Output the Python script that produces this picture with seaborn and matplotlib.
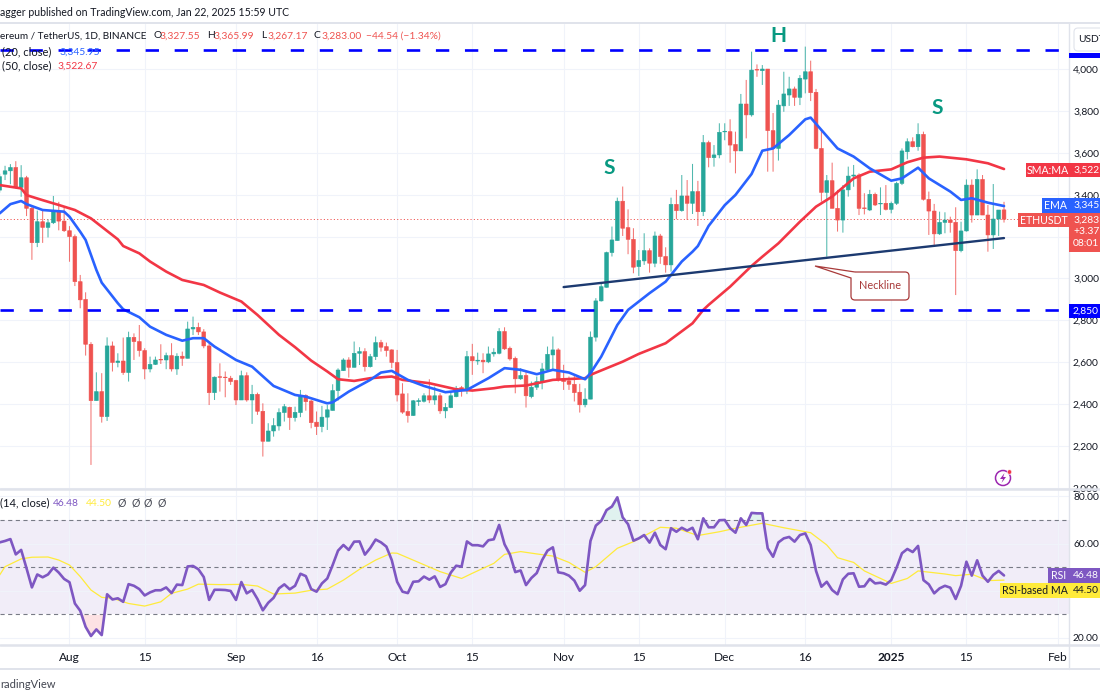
import numpy as np
import pandas as pd
import matplotlib
matplotlib.use("Agg")
import matplotlib.pyplot as plt
import seaborn as sns
from matplotlib.patches import Rectangle, FancyBboxPatch, PathPatch, Circle, Polygon
from matplotlib.path import Path
from matplotlib.transforms import Affine2D

# daily candles, 19 Jul 2024 to 22 Jan 2025
opens = [3422,3498,3514,3530,3435,3481,3335,3171,3271,3244,3266,3319,3274,
    3228,3200,2985,2900,2686,2417,2460,2341,2678,2599,
    2606,2551,2719,2699,2656,2568,2590,2614,2611,2632,
    2568,2629,2619,2759,2767,2745,2678,2455,2531,2529,
    2524,2513,2420,2536,2420,2447,2366,2223,2272,2296,
    2360,2385,2336,2360,2441,2415,2314,2293,2338,2370,
    2465,2560,2611,2576,2643,2651,2579,2627,2694,2675,
    2659,2599,2449,2365,2346,2412,2414,2440,2420,2440,
    2368,2384,2436,2479,2471,2627,2606,2610,2602,2640,
    2643,2747,2667,2619,2521,2537,2436,2481,2505,2564,
    2635,2659,2522,2511,2495,2457,2397,2424,2720,2893,
    2958,3124,3181,3369,3243,3187,3057,3084,3133,3073,
    3203,3105,3065,3354,3324,3394,3359,3415,3319,3649,
    3577,3590,3700,3701,3640,3609,3833,3781,3998,3992,
    4000,3706,3621,3824,3876,3905,3865,3952,3987,3889,
    3621,3411,3467,3335,3279,3423,3489,3494,3337,3327,
    3402,3356,3359,3330,3359,3454,3605,3653,3629,3688,
    3378,3322,3213,3268,3279,3268,3133,3227,3446,3303,
    3473,3303,3208,3284,3327.55]
closes = [3486,3514,3530,3435,3481,3335,3171,3271,3244,3266,3319,3274,3228,
    3200,2985,2898,2686,2417,2460,2341,2678,2599,2606,
    2551,2719,2699,2656,2568,2590,2611,2611,2632,2568,
    2629,2619,2759,2767,2745,2678,2455,2529,2528,2527,
    2508,2420,2536,2420,2447,2366,2223,2272,2298,2360,
    2388,2336,2361,2441,2412,2312,2293,2338,2373,2465,
    2563,2611,2576,2643,2651,2579,2627,2694,2672,2656,
    2599,2444,2362,2346,2416,2417,2440,2420,2440,2368,
    2385,2440,2476,2471,2627,2607,2610,2602,2640,2648,
    2747,2664,2616,2521,2537,2440,2481,2508,2568,2638,
    2659,2519,2508,2495,2455,2397,2424,2720,2893,2961,
    3124,3184,3369,3240,3187,3054,3086,3133,3073,3203,
    3105,3065,3354,3324,3394,3359,3415,3319,3649,3577,
    3590,3698,3703,3637,3609,3833,3781,3995,3995,4000,
    3706,3621,3828,3881,3905,3865,3956,3987,3887,3621,
    3411,3467,3335,3279,3423,3489,3494,3335,3334,3402,
    3351,3359,3330,3359,3454,3609,3653,3629,3688,3378,
    3322,3213,3268,3279,3267,3133,3227,3446,3303,3473,
    3303,3208,3284,3327,3283]
highs = [3500,3538,3546,3560,3541,3490,3345,3324,3324,3282,3394,3366,3340,
    3250,3210,3017,2934,2696,2552,2548,2719,2699,2643,
    2718,2746,2738,2778,2667,2627,2627,2686,2646,2691,
    2643,2651,2794,2818,2789,2758,2691,2532,2595,2556,
    2535,2516,2560,2552,2492,2455,2404,2309,2333,2380,
    2401,2388,2388,2468,2447,2420,2365,2392,2396,2495,
    2571,2619,2624,2699,2672,2667,2640,2723,2707,2694,
    2662,2659,2500,2452,2420,2428,2452,2519,2484,2452,
    2405,2460,2487,2487,2654,2688,2646,2643,2675,2667,
    2763,2767,2675,2627,2572,2556,2508,2532,2596,2675,
    2723,2667,2588,2532,2540,2497,2476,2747,2906,2977,
    3128,3248,3386,3439,3330,3240,3136,3216,3144,3224,
    3213,3149,3386,3423,3494,3470,3547,3466,3685,3658,
    3637,3741,3741,3760,3701,3881,3948,4083,4022,4019,
    4000,3790,3852,3987,3963,3916,3971,4107,4040,3905,
    3709,3494,3553,3423,3446,3534,3542,3502,3407,3423,
    3410,3435,3446,3367,3462,3621,3669,3674,3741,3701,
    3415,3356,3319,3316,3295,3340,3271,3473,3473,3521,
    3494,3351,3451,3327,3365.99]
lows = [3410,3470,3450,3430,3390,3298,3089,3150,3170,3196,3260,3230,3222,
    3080,2964,2858,2632,2110,2417,2312,2320,2556,2576,
    2540,2508,2611,2627,2519,2552,2587,2592,2567,2556,
    2540,2583,2619,2730,2730,2667,2396,2420,2460,2433,
    2492,2396,2420,2412,2306,2349,2150,2223,2245,2274,
    2317,2277,2317,2338,2369,2285,2253,2266,2277,2370,
    2417,2559,2527,2576,2587,2556,2575,2611,2651,2627,
    2572,2413,2354,2312,2344,2392,2408,2405,2397,2354,
    2333,2381,2433,2436,2448,2540,2588,2548,2596,2627,
    2638,2659,2608,2452,2516,2384,2428,2468,2471,2560,
    2564,2508,2468,2468,2413,2360,2385,2424,2699,2890,
    2957,3105,3181,3203,3116,3025,3012,3065,3028,3054,
    3070,3028,3033,3283,3319,3280,3308,3251,3298,3531,
    3534,3574,3660,3553,3502,3609,3669,3773,3963,3924,
    3510,3510,3563,3796,3824,3824,3828,3884,3847,3617,
    3367,3104,3335,3224,3219,3391,3438,3303,3306,3322,
    3346,3303,3325,3311,3351,3446,3569,3626,3610,3372,
    3208,3160,3208,3216,3219,2921,3125,3224,3267,3303,
    3303,3128,3141,3203,3267.17]

ema_days = [-13,-11,-9,-8,-5,-1,0,2,3,5,6,9,10,13,15,18,21,23,25,27,31,34,38,42,44,
    48,49,52,56,58,60,63,66,70,74,78,81,84,87,90,93,96,97,99,102,104,108,111,114,116,
    117,119,122,124,127,129,131,134,137,138,140,143,146,149,153,155,158,160,164,166,168,171,174]
ema_vals = [3311,3355,3370,3355,3327,3319,3295,3223,3184,3041,2980,2882,2853,2815,2770,
    2731,2703,2715,2715,2675,2611,2579,2487,2444,2436,2404,2409,2460,2516,2551,
    2559,2516,2487,2457,2468,2524,2572,2564,2543,2564,2551,2519,2548,2627,2778,
    2850,2930,2985,3081,3128,3155,3251,3350,3399,3499,3610,3621,3685,3760,3768,
    3709,3621,3582,3526,3467,3478,3529,3478,3415,3375,3383,3362,3345.95]
sma_days = [-13,-9,-8,-5,-2,1,4,9,10,13,15,18,21,25,28,32,35,39,42,45,48,50,53,56,60,62,67,72,
    75,79,81,85,90,96,97,103,106,111,116,117,118,119,123,127,129,132,136,139,142,146,149,153,156,159,162,167,171,174]
sma_vals = [3446,3430,3398,3374,3351,3327,3287,3187,3155,3120,3081,3033,2993,2969,2933,2890,
    2826,2731,2672,2608,2556,2519,2511,2524,2532,2516,2500,2471,2465,2476,2484,2489,2516,
    2524,2540,2603,2640,2691,2786,2818,2850,2874,2961,3060,3104,3168,3271,3343,3391,3478,
    3510,3521,3555,3577,3582,3569,3550,3522.67]

# RSI(14), one reading per candle
rsi_vals = [60.5,61.1,61.9,55.4,57.3,49.5,41.4,46.9,45.7,46.9,49.8,47.7,45.0,
    43.6,34.6,31.5,24.7,20.8,23.6,21.2,38.5,36.3,36.8,
    35.3,42.8,42.1,40.7,38.0,39.3,40.2,40.2,41.4,39.0,
    42.6,42.4,50.3,50.5,49.1,45.8,36.1,40.4,40.4,40.3,
    39.9,36.1,43.7,38.9,40.3,36.5,31.7,34.9,37.0,41.0,
    42.7,40.6,42.1,47.2,46.2,40.7,39.6,43.1,45.2,50.9,
    57.0,59.4,57.3,60.8,60.9,55.3,58.1,61.7,60.5,58.7,
    53.0,43.8,39.6,39.0,43.8,44.0,46.0,44.7,46.1,41.6,
    42.8,47.7,50.6,50.2,60.9,59.3,59.3,58.8,61.4,61.8,
    67.9,59.7,55.4,47.9,48.6,42.4,45.4,47.5,53.0,57.0,
    58.4,47.8,47.4,46.4,44.3,40.0,42.4,61.1,67.6,69.6,
    74.2,75.7,79.6,71.1,68.2,61.2,62.2,63.6,60.4,64.6,
    59.4,57.6,66.5,65.0,66.7,65.5,66.7,61.8,70.7,66.9,
    66.9,69.9,70.0,66.5,64.6,70.7,67.9,73.0,72.8,72.8,
    58.0,54.4,60.5,62.2,62.8,60.8,63.6,64.3,59.4,48.4,
    41.7,43.8,40.3,38.5,44.8,47.2,47.4,41.7,41.9,45.0,
    43.1,43.4,42.6,44.5,49.8,55.9,57.7,56.4,59.0,44.5,
    42.7,38.9,41.0,42.1,41.3,36.5,42.1,52.3,46.4,52.9,
    46.4,43.8,46.7,48.4,46.48]
rsi_ma_days = [-13,-12,-9,-7,-4,-2,0,2,4,6,8,11,14,17,19,22,24,28,32,35,38,42,45,48,51,54,57,60,61,
    65,69,73,75,79,81,84,87,90,93,96,98,102,105,110,113,117,121,124,129,133,138,141,143,146,148,
    153,156,158,163,165,168,171,174]
rsi_ma_vals = [46.7,50.2,53.5,54.2,54.3,53.0,50.9,46.0,40.3,37.2,36.8,34.6,33.5,35.3,38.9,40.7,42.8,
    42.6,42.7,42.0,38.6,39.0,40.2,40.7,44.5,49.1,53.0,56.0,55.9,52.0,48.1,45.2,47.4,51.6,55.4,56.6,
    55.6,54.7,52.0,47.8,50.2,58.0,60.8,66.9,66.5,63.4,65.0,66.5,68.6,66.7,64.6,59.4,54.0,52.0,48.4,
    43.1,45.2,48.4,47.1,46.4,47.0,44.3,44.50]

# annotations
level_prices = [4090, 2850]
neck_dates = ["2024-11-01", "2025-01-22"]
neck_prices = [2959, 3193]
last_price = 3283
price_ticks = list(range(2000, 4001, 200))
price_labels = ["2,000","2,200","2,400","2,600","2,800","3,000","","3,400","3,600","3,800","4,000"]
rsi_ticks = [20, 40, 60, 80]
rsi_labels = ["20.00", "", "60.00", "80.00"]
month_ticks = ["2024-08-01","2024-08-15","2024-09-01","2024-09-16","2024-10-01","2024-10-15","2024-11-01",
    "2024-11-15","2024-12-01","2024-12-16","2025-01-01","2025-01-15","2025-02-01"]
month_labels = ["Aug","15","Sep","16","Oct","15","Nov","15","Dec","16","2025","15","Feb"]

UP = "#26a69a"
DOWN = "#ef5350"
EMA_C = "#2962ff"
SMA_C = "#f23645"
RSI_C = "#7e57c2"
MA_C = "#ffeb3b"
LEVEL_C = "#0000ff"
GRID = "#f0f3fa"
RULE = "#e0e3eb"
TEXT = "#131722"
FONT = ["Lato", "DejaVu Sans"]
SCALE_X = 1073

sns.set_theme(style="white")
plt.rcParams["font.family"] = FONT
plt.rcParams["lines.scale_dashes"] = False

base = pd.Timestamp("2024-08-01")
candles = pd.DataFrame({"o": opens, "h": highs, "l": lows, "c": closes, "rsi": rsi_vals},
                       index=pd.date_range("2024-07-19", periods=len(closes), freq="D"))
candles["date"] = candles.index
ema = pd.DataFrame({"date": base + pd.to_timedelta(ema_days, unit="D"), "v": ema_vals})
sma = pd.DataFrame({"date": base + pd.to_timedelta(sma_days, unit="D"), "v": sma_vals})
rsi_ma = pd.DataFrame({"date": base + pd.to_timedelta(rsi_ma_days, unit="D"), "v": rsi_ma_vals})
neck = pd.DataFrame({"date": pd.to_datetime(neck_dates), "v": neck_prices})

fig = plt.figure(figsize=(11, 7), dpi=100, facecolor="white")
ax = fig.add_axes([0, 1 - 489 / 700, 1069 / 1100, 465 / 700])
ax_rsi = fig.add_axes([0, 1 - 645 / 700, 1069 / 1100, 155 / 700], sharex=ax)

# top-left pixel coordinates for the TradingView furniture
px = Affine2D().scale(1, -1).translate(0, 700)

xmin = base + pd.Timedelta(days=-12.94)
xmax = base + pd.Timedelta(days=186.1)
ax.set_xlim(xmin, xmax)
ax.set_ylim(1995, 4215)
ax_rsi.set_ylim(17.0, 82.7)

tick_dates = pd.to_datetime(month_ticks)
for a in (ax, ax_rsi):
    a.set_axisbelow(True)
    a.grid(True, color=GRID, linewidth=0.8)
    for s in a.spines.values():
        s.set_visible(False)
    a.yaxis.tick_right()

# candles
is_up = candles["c"] >= candles["o"]
for mask, col in ((is_up, UP), (~is_up, DOWN)):
    part = candles[mask]
    wicks = ax.vlines(part["date"], part["l"], part["h"], color=col, linewidth=0.75, alpha=0.8, zorder=2)
    wicks.set_snap(False)
    bars = ax.bar(part["date"], (part["c"] - part["o"]).abs(), bottom=part[["o", "c"]].min(axis=1),
                  width=0.7, color=col, edgecolor=col, linewidth=0.4, zorder=3)
    for b in bars:
        b.set_snap(False)

sns.lineplot(data=sma, x="date", y="v", ax=ax, color=SMA_C, linewidth=1.9, legend=False, zorder=4)
sns.lineplot(data=ema, x="date", y="v", ax=ax, color=EMA_C, linewidth=1.9, legend=False, zorder=5)
sns.lineplot(data=neck, x="date", y="v", ax=ax, color="#1c3a70", linewidth=1.7, legend=False, zorder=6)

level_end = base + pd.Timedelta(days=184.3)
ax.hlines(level_prices, candles["date"].iloc[0], level_end, color=LEVEL_C, linewidth=1.9,
          linestyles=[(0, (9.6, 11.3))], zorder=7)
ax.axhline(last_price, color=DOWN, linewidth=0.7, linestyle=(0, (0.8, 1.6)), zorder=1)

for s, d, p in (("S", 100.5, 3527), ("H", 132, 4157), ("S", 161.6, 3814)):
    ax.text(base + pd.Timedelta(days=d), p, s, color="#089981", fontsize=15, fontweight="bold",
            ha="center", va="center", zorder=8)

# RSI pane
ax_rsi.axhspan(30, 70, color=RSI_C, alpha=0.1, linewidth=0, zorder=0)
for lvl in (70, 50, 30):
    ax_rsi.axhline(lvl, color="#787b86", linewidth=0.8, linestyle=(0, (3, 2.5)), zorder=1)
r = candles["rsi"].to_numpy()
ax_rsi.fill_between(candles["date"], r, 30, where=r < 30, interpolate=True, color=SMA_C, alpha=0.14, linewidth=0)
ax_rsi.fill_between(candles["date"], r, 70, where=r > 70, interpolate=True, color="#089981", alpha=0.12, linewidth=0)
sns.lineplot(data=rsi_ma, x="date", y="v", ax=ax_rsi, color=MA_C, linewidth=0.9, legend=False, zorder=3)
sns.lineplot(data=candles.reset_index(drop=True), x="date", y="rsi", ax=ax_rsi, color=RSI_C, linewidth=1.9,
             legend=False, zorder=4)

ax.set_xlabel("")
ax.set_ylabel("")
ax_rsi.set_xlabel("")
ax_rsi.set_ylabel("")

# axes ticks
ax_rsi.set_xticks(tick_dates)
ax_rsi.set_xticklabels(month_labels)
ax.tick_params(axis="x", labelbottom=False, length=0)
ax_rsi.tick_params(axis="x", length=0, pad=5, labelsize=8.6, labelcolor=TEXT)
for lab in ax_rsi.get_xticklabels():
    if lab.get_text() == "2025":
        lab.set_fontweight("bold")
ax.set_yticks(price_ticks)
ax.set_yticklabels(price_labels)
ax_rsi.set_yticks(rsi_ticks)
ax_rsi.set_yticklabels(rsi_labels)
for a in (ax, ax_rsi):
    a.tick_params(axis="y", length=0, pad=2.9, labelsize=7.4, labelcolor=TEXT)


def rule(x0, y0, x1, y1, color=RULE, lw=1.0):
    fig.add_artist(plt.Line2D([x0, x1], [y0, y1], color=color, linewidth=lw, transform=px, zorder=2))


def box(x0, y0, x1, y1, color):
    fig.add_artist(Rectangle((x0, y0), x1 - x0, y1 - y0, facecolor=color, edgecolor="none", transform=px, zorder=3))


def label(x, y, s, color=TEXT, size=7.4, ha="left", weight="normal"):
    fig.text(x, y, s, color=color, fontsize=size, ha=ha, va="center", transform=px, fontweight=weight, zorder=5)


rule(0, 23, 1100, 23, lw=1.4)
rule(0, 489, 1100, 489, lw=1.8)
rule(0, 645, 1100, 645, lw=1.8)
rule(0, 669, 1100, 669, lw=1.4)
rule(1069, 23, 1069, 669, lw=1.0)

# header lines
label(0, 13, "agger published on TradingView.com, Jan 22, 2025 15:59 UTC", size=7.6)
label(0, 36, "ereum / TetherUS, 1D, BINANCE", size=7.2)
for x, s in ((153, "O"), (207, "H"), (261, "L"), (314, "C")):
    label(x, 36, s, size=7.4)
for x, s in ((160, "3,327.55"), (214, "3,365.99"), (267, "3,267.17"), (321, "3,283.00"), (366, "\u221244.54 (\u22121.34%)")):
    label(x, 36, s, color=DOWN, size=7.4)
label(2, 52, "(20, close)", size=8)
label(59, 52, "3,345.95", color=EMA_C, size=7.4)
label(2, 66, "(50, close)", size=8)
label(58, 66, "3,522.67", color=SMA_C, size=7.4)
label(0, 503, "(14, close)", size=8)
label(53, 503, "46.48", color=RSI_C, size=7.4)
label(86, 503, "44.50", color=MA_C, size=7.4)
for x in (118, 131, 144, 157):
    label(x, 503, "\u00d8", color="#434651", size=7.6)
label(0, 685, "radingView", color="#434651", size=8)

# price scale tags
fig.add_artist(FancyBboxPatch((1074, 28), 40, 23, boxstyle="round,pad=0,rounding_size=4", facecolor="white",
                              edgecolor=RULE, linewidth=0.8, transform=px, zorder=3))
label(1078, 39, "USDT", size=7.4)
box(1069, 53, 1100, 58, LEVEL_C)
box(1026, 163, 1069, 177, SMA_C)
label(1047.5, 170, "SMA:MA", color="white", ha="center", size=7.6)
box(1069, 163, 1100, 177, SMA_C)
label(SCALE_X, 170, "3,522", color="white")
box(1042, 198, 1069, 213, EMA_C)
label(1055.5, 205.5, "EMA", color="white", ha="center", size=7.6)
box(1069, 198, 1100, 213, EMA_C)
label(SCALE_X, 205.5, "3,345", color="white")
box(1018, 213, 1069, 227, DOWN)
label(1043.5, 220, "ETHUSDT", color="white", ha="center", size=7.6)
box(1069, 213, 1100, 252, DOWN)
label(SCALE_X, 220, "3,283", color="white")
label(SCALE_X, 232, "+3.37", color="white")
label(SCALE_X, 244, "08:01", color="white")
box(1069, 304, 1100, 318, LEVEL_C)
label(SCALE_X, 311, "2,850", color="white")
box(1048, 568, 1069, 583, RSI_C)
label(1058.5, 575.5, "RSI", color="white", ha="center", size=7.6)
box(1069, 568, 1100, 583, RSI_C)
label(SCALE_X, 575.5, "46.48", color="white")
box(1000, 583, 1069, 598, MA_C)
label(1034.5, 590.5, "RSI-based MA", ha="center", size=7.6)
box(1069, 583, 1100, 598, MA_C)
label(SCALE_X, 590.5, "44.50")

# neckline callout
callout = [(855, 272), (815, 266), (851, 278), (851, 296), (851, 300), (855, 300), (905, 300), (909, 300),
           (909, 296), (909, 276), (909, 272), (905, 272), (855, 272)]
codes = [Path.MOVETO, Path.LINETO, Path.LINETO, Path.LINETO, Path.CURVE3, Path.CURVE3, Path.LINETO, Path.CURVE3,
         Path.CURVE3, Path.LINETO, Path.CURVE3, Path.CURVE3, Path.LINETO]
fig.add_artist(PathPatch(Path(callout, codes), facecolor="white", edgecolor="#a83a3a", linewidth=0.9, transform=px, zorder=3))
label(880, 285.5, "Neckline", color="#a83a3a", ha="center", size=7.8)

# news flag icon
fig.add_artist(Circle((1003, 478), 7.5, facecolor="none", edgecolor="#9c27b0", linewidth=1.1, transform=px, zorder=3))
fig.add_artist(Polygon([(1004.5, 473), (1000, 479), (1003, 479), (1001.5, 483), (1006, 477), (1003.2, 477)],
                       closed=True, facecolor="#9c27b0", edgecolor="none", transform=px, zorder=3))
fig.add_artist(Circle((1009.5, 472), 2.3, facecolor=SMA_C, edgecolor="white", linewidth=0.5, transform=px, zorder=4))

fig.savefig("out.png", dpi=100)
